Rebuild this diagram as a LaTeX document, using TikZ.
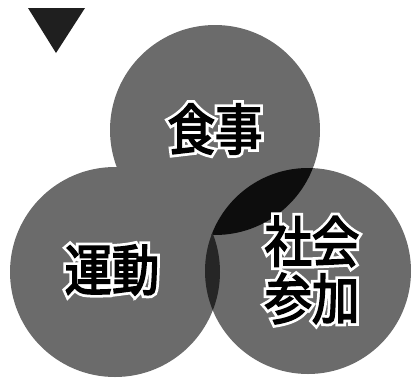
\documentclass[tikz,border=0pt]{standalone}
\usepackage{fontspec}
\newfontfamily\jp{Noto Sans CJK JP}[FakeStretch=0.86, FakeBold=3]
\newfontfamily\jphalo{Noto Sans CJK JP}[FakeStretch=0.86, FakeBold=13]
\newcommand\halo[1]{\rlap{\jphalo\textcolor{white}{#1}}#1}
\tikzset{
  circ/.style={fill=black!58},
  lbl/.style={font=\jp\fontsize{55}{57}\selectfont, text=black, inner sep=0pt, align=center}
}
\begin{document}
\begin{tikzpicture}[x=1pt,y=-1pt]
\useasboundingbox (0,0) rectangle (412,378);
\coordinate (ctop) at (215,130);
\coordinate (cleft) at (115,272);
\coordinate (cright) at (308,271);
% triangle
\fill[black!88] (28,8) -- (85,8) -- (56,53) -- cycle;
% circles
\fill[circ] (ctop) circle (105);
\fill[circ] (cleft) circle (105);
\fill[circ] (cright) circle (103);
% overlaps
\begin{scope}
  \clip (ctop) circle (105);
  \fill[black!95] (cright) circle (103);
\end{scope}
\begin{scope}
  \clip (cleft) circle (105);
  \fill[black!85] (cright) circle (103);
\end{scope}
% labels
\node[lbl] (food) at (215,129) {\halo{食事}};
\node[lbl] (exercise) at (112,270) {\halo{運動}};
\node[lbl] (social) at (312,270) {\halo{社会}\\\halo{参加}};
\end{tikzpicture}
\end{document}
